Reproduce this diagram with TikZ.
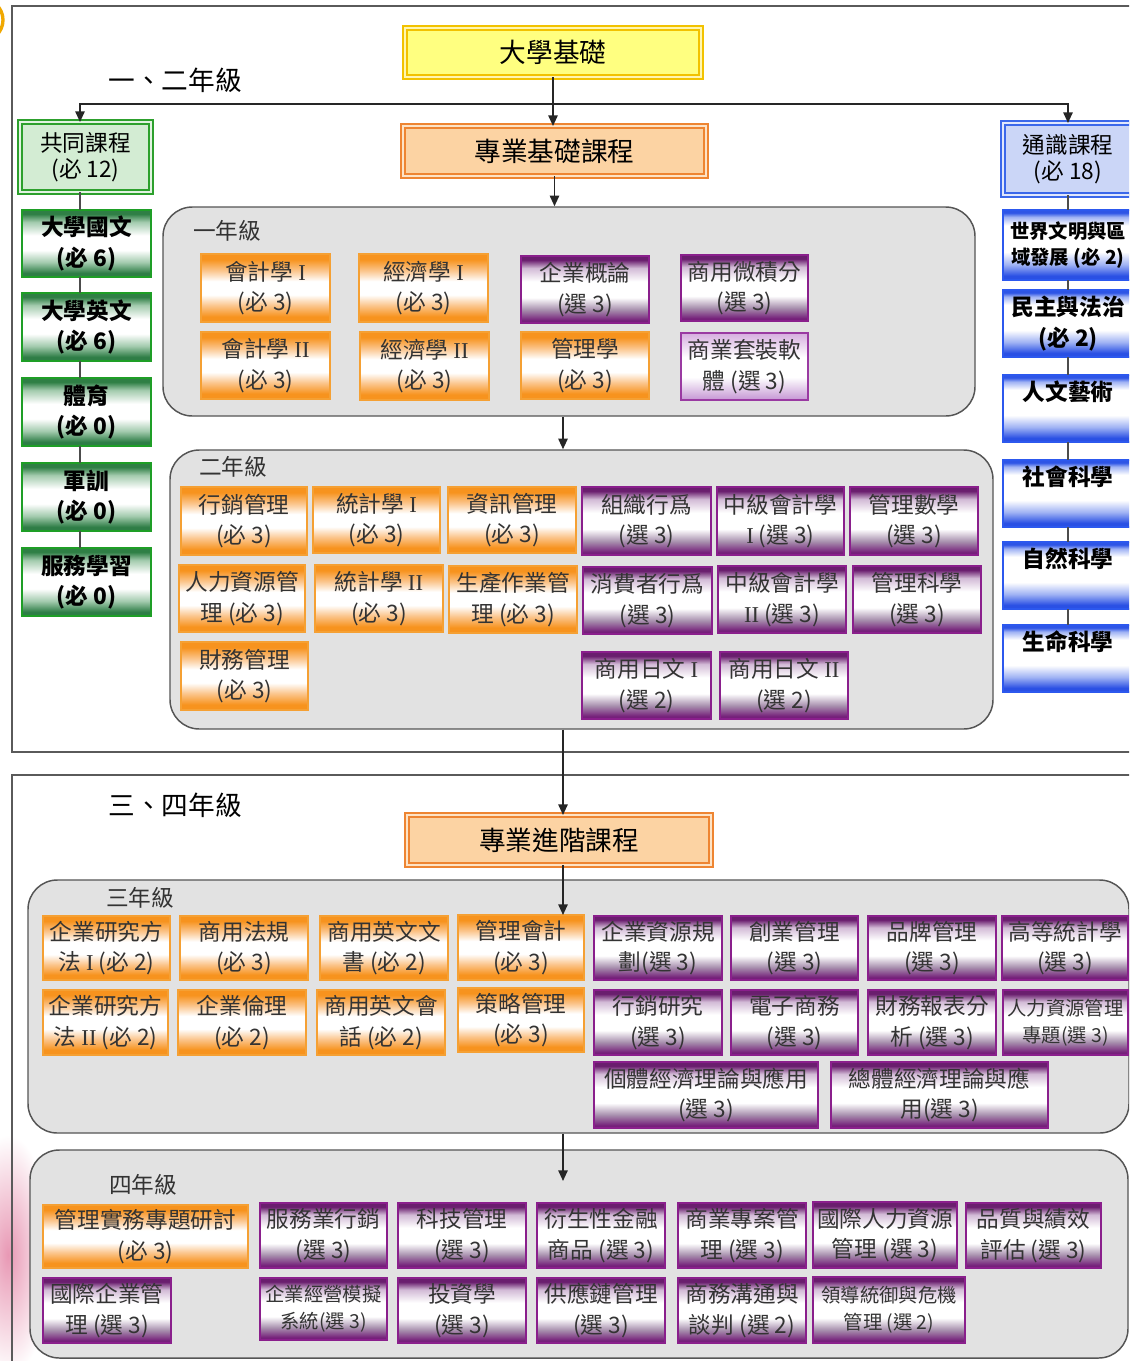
\documentclass[tikz,border=0pt]{standalone}
\usepackage{fontspec}
\setmainfont{Noto Sans CJK TC}
\newfontfamily\romanfont{Liberation Serif}
\usetikzlibrary{arrows.meta}

\newcommand{\RI}{{\romanfont I}}
\newcommand{\RII}{{\romanfont II}}

\definecolor{txt}{HTML}{333333}
% orange
\definecolor{oT}{HTML}{F7931E}
\definecolor{oB}{HTML}{F7931E}
\definecolor{oM}{HTML}{FBC48A}
\definecolor{oD}{HTML}{F5A033}
% purple
\definecolor{pT}{HTML}{6A1E6E}
\definecolor{pB}{HTML}{75207A}
\definecolor{pL}{HTML}{D2BAD6}
\definecolor{pG}{HTML}{A890AE}
\definecolor{pD}{HTML}{8A1F8C}
% light purple
\definecolor{lpT}{HTML}{D6AEDF}
\definecolor{lpB}{HTML}{C596D4}
\definecolor{lpD}{HTML}{9A3AA2}
% green
\definecolor{gT}{HTML}{2F7F45}
\definecolor{gB}{HTML}{2E7D46}
\definecolor{gL}{HTML}{A3CBAE}
\definecolor{gD}{HTML}{1E9E26}
% blue
\definecolor{bT}{HTML}{2E55E6}
\definecolor{bB}{HTML}{2A50E4}
\definecolor{bL}{HTML}{9FB2F4}
\definecolor{bD}{HTML}{2C58EE}
% headers
\definecolor{hyF}{HTML}{FFFF80}
\definecolor{hyD}{HTML}{F2C200}
\definecolor{hyI}{HTML}{FFF6B0}
\definecolor{hoF}{HTML}{FCD3A3}
\definecolor{hoD}{HTML}{EE8532}
\definecolor{hoI}{HTML}{FDE3C6}
\definecolor{hgF}{HTML}{D3ECD3}
\definecolor{hgD}{HTML}{2DA02D}
\definecolor{hgI}{HTML}{E2F3E2}
\definecolor{hbF}{HTML}{CBD6F7}
\definecolor{hbD}{HTML}{3B68EA}
\definecolor{hbI}{HTML}{E1E7FB}
% containers
\definecolor{yF}{HTML}{E2E2E2}
\definecolor{yD}{HTML}{555555}
\definecolor{frm}{HTML}{5A5A5A}
\definecolor{pinkA}{HTML}{E898B4}
\definecolor{goldA}{HTML}{F0A800}

\pgfdeclareverticalshading{shO}{100bp}{color(0bp)=(oB); color(25bp)=(oB); color(29bp)=(oB); color(37bp)=(oM); color(45bp)=(white); color(55bp)=(white); color(63bp)=(oM); color(71bp)=(oT); color(75bp)=(oT); color(100bp)=(oT)}
\pgfdeclareverticalshading{shP}{100bp}{color(0bp)=(pB); color(25bp)=(pB); color(27bp)=(pB); color(35bp)=(pG); color(44bp)=(white); color(56bp)=(white); color(66bp)=(pL); color(72bp)=(pT); color(75bp)=(pT); color(100bp)=(pT)}
\pgfdeclareverticalshading{shLP}{100bp}{color(0bp)=(lpB); color(25bp)=(lpB); color(42bp)=(white); color(57bp)=(white); color(75bp)=(lpT); color(100bp)=(lpT)}
\pgfdeclareverticalshading{shG}{100bp}{color(0bp)=(gB); color(25bp)=(gB); color(28bp)=(gB); color(36bp)=(gL); color(45bp)=(white); color(56bp)=(white); color(66bp)=(gL); color(72bp)=(gT); color(75bp)=(gT); color(100bp)=(gT)}
\pgfdeclareverticalshading{shB}{100bp}{color(0bp)=(bB); color(25bp)=(bB); color(28bp)=(bB); color(36bp)=(bL); color(45bp)=(white); color(64bp)=(white); color(70bp)=(bL); color(73bp)=(bT); color(75bp)=(bT); color(100bp)=(bT)}

\newcommand{\myfb}{\fontsize{17}{23}\selectfont}
\newcommand{\myfs}{\fontsize{14.5}{20}\selectfont}
\newcommand{\myfh}{\fontsize{20}{24}\selectfont}
\newcommand{\myfl}{\fontsize{17}{20}\selectfont}

\newcommand{\mkbox}[7]{\node[#2, minimum width={(#5-#3)*0.75pt}, minimum height={(#6-#4)*0.75pt}] (#1) at ({(#3+#5)/2},{(#4+#6)/2}) {#7};}

\tikzset{
  base/.style={inner sep=0pt, outer sep=0pt, align=center, font=\myfb, text=txt},
  obox/.style={base, shade, shading=shO, draw=oD, line width=1.3pt},
  pbox/.style={base, shade, shading=shP, draw=pD, line width=1.3pt},
  lpbox/.style={base, shade, shading=shLP, draw=lpD, line width=1.3pt},
  gbox/.style={base, shade, shading=shG, draw=gD, line width=1.5pt, font=\myfb\bfseries, text=black},
  bluebox/.style={base, shade, shading=shB, draw=bD, line width=1.5pt, font=\myfb\bfseries, text=black},
  sm/.style={font=\myfs},
  hdbase/.style={inner sep=0pt, outer sep=0pt, align=center, line width=1.1pt, double distance=1.8pt, text=black, font=\myfl},
  hdyellow/.style={hdbase, fill=hyF, draw=hyD, double=hyI, font=\myfh},
  hdorange/.style={hdbase, fill=hoF, draw=hoD, double=hoI, font=\myfh},
  hdgreen/.style={hdbase, fill=hgF, draw=hgD, double=hgI},
  hdblue/.style={hdbase, fill=hbF, draw=hbD, double=hbI},
  yearbox/.style={draw=yD, fill=yF, line width=1.1pt, rounded corners=22pt, inner sep=0pt},
  frame/.style={draw=frm, line width=1.5pt},
  lab/.style={inner sep=0pt, font=\myfh, text=black},
  ylab/.style={inner sep=0pt, font=\myfl, text=txt},
  arr/.style={draw=black!85, line width=1.3pt, -{Triangle[length=8pt,width=7pt]}},
  vline/.style={draw=black!70, line width=1pt}
}

\begin{document}
\begin{tikzpicture}[x=0.75pt,y=-0.75pt]
\useasboundingbox (0,0) rectangle (1129,1361);
\clip (0,0) rectangle (1129,1361);
\fill[white] (0,0) rectangle (1129,1361);

% decorations in the background
\shade[inner color=pinkA, outer color=white] (8,1255) ellipse (45 and 120);
\draw[goldA, line width=2.5pt] (-18,20) circle (21);

% frames
\draw[frame] (12,6) rectangle (1145,752);
\draw[frame] (12,775) rectangle (1145,1380);

% year containers
\mkbox{y1}{yearbox}{163}{207}{975}{416}{}
\mkbox{y2}{yearbox}{170}{450}{993}{729}{}
\mkbox{y3}{yearbox}{28}{880}{1129}{1133}{}
\mkbox{y4}{yearbox}{30}{1150}{1128}{1358}{}

% section labels
\node[lab] (l12) at (175,80) {一、二年級};
\node[lab] (l34) at (175,805) {三、四年級};
\node[ylab] (t1) at (227,231) {一年級};
\node[ylab] (t2) at (233,467) {二年級};
\node[ylab] (t3) at (140,898) {三年級};
\node[ylab] (t4) at (143,1185) {四年級};

% header boxes
\mkbox{dxjc}{hdyellow}{405}{28}{701}{77}{大學基礎}
\mkbox{zyjc}{hdorange}{403}{126}{706}{176}{專業基礎課程}
\mkbox{gtkc}{hdgreen}{20}{122}{151}{192}{共同課程\\(必 12)}
\mkbox{tskc}{hdblue}{1003}{123}{1133}{195}{通識課程\\(必 18)}
\mkbox{zjjc}{hdorange}{407}{815}{711}{865}{專業進階課程}

% common courses
\mkbox{g1}{gbox}{22}{210}{151}{277}{大學國文\\(必 6)}
\mkbox{g2}{gbox}{22}{293}{151}{361}{大學英文\\(必 6)}
\mkbox{g3}{gbox}{22}{378}{151}{446}{體育\\(必 0)}
\mkbox{g4}{gbox}{22}{463}{151}{531}{軍訓\\(必 0)}
\mkbox{g5}{gbox}{22}{548}{151}{616}{服務學習\\(必 0)}

% general education
\mkbox{b1}{bluebox,font=\myfs\bfseries}{1003}{210}{1133}{280}{世界文明與區\\域發展 (必 2)}
\mkbox{b2}{bluebox}{1003}{290}{1133}{357}{民主與法治\\(必 2)}
\mkbox{b3}{bluebox}{1003}{375}{1133}{442}{人文藝術\\\phantom{(必 2)}}
\mkbox{b4}{bluebox}{1003}{460}{1133}{527}{社會科學\\\phantom{(必 2)}}
\mkbox{b5}{bluebox}{1003}{542}{1133}{609}{自然科學\\\phantom{(必 2)}}
\mkbox{b6}{bluebox}{1003}{625}{1133}{692}{生命科學\\\phantom{(必 2)}}

% year 1
\mkbox{kj1}{obox}{201}{254}{330}{322}{會計學 \RI\\(必 3)}
\mkbox{kj2}{obox}{201}{332}{330}{399}{會計學 \RII\\(必 3)}
\mkbox{jj1}{obox}{359}{254}{488}{322}{經濟學 \RI\\(必 3)}
\mkbox{jj2}{obox}{360}{332}{489}{400}{經濟學 \RII\\(必 3)}
\mkbox{qygl}{pbox}{521}{256}{649}{323}{企業概論\\(選 3)}
\mkbox{glx}{obox}{521}{332}{649}{399}{管理學\\(必 3)}
\mkbox{wjf}{pbox}{681}{255}{808}{321}{商用微積分\\(選 3)}
\mkbox{tzrt}{lpbox}{681}{333}{808}{400}{商業套裝軟\\體 (選 3)}

% year 2
\mkbox{xxgl}{obox}{181}{487}{307}{555}{行銷管理\\(必 3)}
\mkbox{tj1}{obox}{313}{487}{440}{553}{統計學 \RI\\(必 3)}
\mkbox{zxgl}{obox}{448}{487}{576}{553}{資訊管理\\(必 3)}
\mkbox{zzxw}{pbox}{582}{487}{711}{555}{組織行爲\\(選 3)}
\mkbox{zjkj1}{pbox}{717}{487}{844}{555}{中級會計學\\\RI{} (選 3)}
\mkbox{glsx}{pbox}{850}{487}{978}{555}{管理數學\\(選 3)}
\mkbox{rlzy}{obox}{179}{565}{305}{632}{人力資源管\\理 (必 3)}
\mkbox{tj2}{obox}{315}{565}{443}{632}{統計學 \RII\\(必 3)}
\mkbox{sczy}{obox}{449}{566}{577}{633}{生產作業管\\理 (必 3)}
\mkbox{xfz}{pbox}{583}{567}{712}{634}{消費者行爲\\(選 3)}
\mkbox{zjkj2}{pbox}{718}{566}{846}{633}{中級會計學\\\RII{} (選 3)}
\mkbox{glkx}{pbox}{853}{566}{981}{633}{管理科學\\(選 3)}
\mkbox{cwgl}{obox}{181}{642}{308}{710}{財務管理\\(必 3)}
\mkbox{ry1}{pbox}{582}{652}{711}{719}{商用日文 \RI\\(選 2)}
\mkbox{ry2}{pbox}{720}{652}{848}{719}{商用日文 \RII\\(選 2)}

% year 3
\mkbox{yj1}{obox}{43}{916}{170}{980}{企業研究方\\法 \RI{} (必 2)}
\mkbox{syfg}{obox}{180}{916}{308}{980}{商用法規\\(必 3)}
\mkbox{ywws}{obox}{320}{916}{448}{980}{商用英文文\\書 (必 2)}
\mkbox{glkj}{obox}{458}{915}{584}{980}{管理會計\\(必 3)}
\mkbox{qyzy}{pbox}{594}{916}{722}{980}{企業資源規\\劃(選 3)}
\mkbox{cygl}{pbox}{731}{916}{858}{980}{創業管理\\(選 3)}
\mkbox{ppgl}{pbox}{868}{916}{996}{980}{品牌管理\\(選 3)}
\mkbox{gdtj}{pbox}{1002}{916}{1128}{980}{高等統計學\\(選 3)}
\mkbox{yj2}{obox}{43}{990}{168}{1055}{企業研究方\\法 \RII{} (必 2)}
\mkbox{qylj}{obox}{178}{990}{306}{1055}{企業倫理\\(必 2)}
\mkbox{ywhh}{obox}{317}{990}{445}{1055}{商用英文會\\話 (必 2)}
\mkbox{clgl}{obox}{458}{988}{584}{1052}{策略管理\\(必 3)}
\mkbox{xxyj}{pbox}{594}{990}{722}{1055}{行銷研究\\(選 3)}
\mkbox{dzsw}{pbox}{731}{990}{858}{1055}{電子商務\\(選 3)}
\mkbox{cwbb}{pbox}{868}{990}{996}{1055}{財務報表分\\析 (選 3)}
\mkbox{rlzt}{pbox,sm}{1003}{990}{1128}{1055}{人力資源管理\\專題(選 3)}
\mkbox{gtjj}{pbox}{594}{1062}{818}{1128}{個體經濟理論與應用\\(選 3)}
\mkbox{ztjj}{pbox}{831}{1062}{1048}{1128}{總體經濟理論與應\\用(選 3)}

% year 4
\mkbox{glsw}{obox}{43}{1205}{248}{1268}{管理實務專題研討\\(必 3)}
\mkbox{fwy}{pbox}{260}{1203}{387}{1268}{服務業行銷\\(選 3)}
\mkbox{kjgl}{pbox}{398}{1203}{526}{1268}{科技管理\\(選 3)}
\mkbox{yssj}{pbox}{537}{1203}{665}{1268}{衍生性金融\\商品 (選 3)}
\mkbox{syzy}{pbox}{678}{1203}{806}{1268}{商業專案管\\理 (選 3)}
\mkbox{gjrl}{pbox}{813}{1202}{957}{1268}{國際人力資源\\管理 (選 3)}
\mkbox{pzjx}{pbox}{966}{1203}{1101}{1268}{品質與績效\\評估 (選 3)}
\mkbox{gjqy}{pbox}{43}{1278}{171}{1343}{國際企業管\\理 (選 3)}
\mkbox{qyjy}{pbox,sm}{260}{1278}{387}{1340}{企業經營模擬\\系統(選 3)}
\mkbox{tzx}{pbox}{398}{1278}{526}{1343}{投資學\\(選 3)}
\mkbox{gyl}{pbox}{537}{1278}{665}{1343}{供應鏈管理\\(選 3)}
\mkbox{swgt}{pbox}{678}{1278}{806}{1343}{商務溝通與\\談判 (選 2)}
\mkbox{ldty}{pbox,sm}{813}{1277}{965}{1343}{領導統御與危機\\管理 (選 2)}

% connectors
\coordinate (lx) at (80,0);
\coordinate (rx) at (1068,0);
\coordinate (ax) at (563,0);
\coordinate (split) at (555,104);
\coordinate (y4end) at (563,1181);

\draw[arr] (dxjc.south) -- (dxjc.south |- zyjc.north);
\draw[arr] (split) -| (lx |- gtkc.north);
\draw[arr] (split) -| (rx |- tskc.north);
\draw[arr] (zyjc.south) -- (zyjc.south |- y1.north);
\draw[arr] (ax |- y1.south) -- (ax |- y2.north);
\draw[arr] (ax |- y2.south) -- (ax |- zjjc.north);
\draw[arr] (ax |- zjjc.south) -- (ax |- glkj.north);
\draw[arr] (ax |- y3.south) -- (y4end);

\foreach \a/\b in {gtkc/g1,g1/g2,g2/g3,g3/g4,g4/g5}
  \draw[vline] (lx |- \a.south) -- (lx |- \b.north);
\foreach \a/\b in {tskc/b1,b1/b2,b2/b3,b3/b4,b4/b5,b5/b6}
  \draw[vline] (rx |- \a.south) -- (rx |- \b.north);
\end{tikzpicture}
\end{document}
